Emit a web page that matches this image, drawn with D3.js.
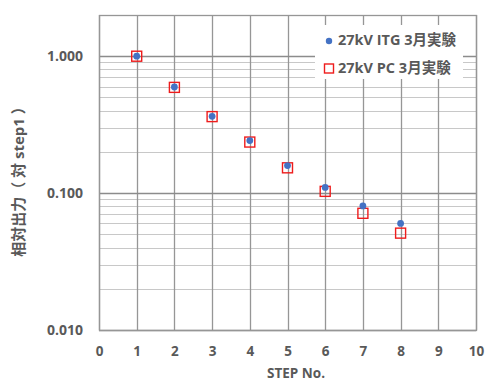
<!DOCTYPE html>
<html>
<head>
<meta charset="utf-8">
<script src="https://cdn.jsdelivr.net/npm/d3@7/dist/d3.min.js"></script>
<style>
  html, body { margin: 0; padding: 0; background: #fff; }
  svg { display: block; }
  text { font-family: "Open Sans", "Noto Sans CJK JP", sans-serif; font-weight: bold; fill: #595959; }
</style>
</head>
<body>
<svg id="chart" width="486" height="383"></svg>
<script>
// Relative output per step, normalised to step 1
const steps = [1, 2, 3, 4, 5, 6, 7, 8];
const itgValues = [1.0, 0.596, 0.364, 0.242, 0.159, 0.110, 0.0806, 0.060];
const pcValues  = [1.0, 0.592, 0.362, 0.236, 0.153, 0.103, 0.0712, 0.051];
const seriesNames = ["27kV ITG 3月実験", "27kV PC 3月実験"];
const xTicks = [0, 1, 2, 3, 4, 5, 6, 7, 8, 9, 10];
const yTicks = [0.01, 0.1, 1];
const yTickLabels = ["0.010", "0.100", "1.000"];
const xTitle = "STEP No.";
const yTitle = "相対出力（ 対 step1 ）";

const svg = d3.select("#chart");
const m = { left: 99, right: 10, top: 15, bottom: 53 };
const W = 486, H = 383;
const pw = W - m.left - m.right, ph = H - m.top - m.bottom;

const x = d3.scaleLinear().domain([0, 10]).range([m.left, m.left + pw]);
const y = d3.scaleLog().domain([0.01, 2]).range([m.top + ph, m.top]);

// Minor gridlines (2..9 within each decade)
const minor = [];
for (const dec of [0.01, 0.1, 1]) {
  for (let k = 2; k <= 9; k++) {
    const v = dec * k;
    if (v <= 2) minor.push(v);
  }
}
const grid = svg.append("g");
grid.selectAll("line.minor").data(minor).join("line")
  .attr("class", "minor")
  .attr("x1", m.left).attr("x2", m.left + pw)
  .attr("y1", d => Math.round(y(d)) + 0.5).attr("y2", d => Math.round(y(d)) + 0.5)
  .attr("stroke", "#c8c8c8").attr("stroke-width", 1);

// Vertical gridlines
grid.selectAll("line.vx").data(xTicks).join("line")
  .attr("class", "vx")
  .attr("x1", d => Math.round(x(d)) + 0.5).attr("x2", d => Math.round(x(d)) + 0.5)
  .attr("y1", m.top).attr("y2", m.top + ph)
  .attr("stroke", "#969696").attr("stroke-width", 1.3);

// Major horizontal gridlines
grid.selectAll("line.major").data(yTicks).join("line")
  .attr("class", "major")
  .attr("x1", m.left).attr("x2", m.left + pw)
  .attr("y1", d => Math.round(y(d)) + 0.5).attr("y2", d => Math.round(y(d)) + 0.5)
  .attr("stroke", "#8c8c8c").attr("stroke-width", 1.5);

// Plot frame
svg.append("rect")
  .attr("x", m.left + 0.5).attr("y", m.top + 0.5)
  .attr("width", pw).attr("height", ph)
  .attr("fill", "none").attr("stroke", "#969696").attr("stroke-width", 1.3);

// Axes (labels only; lines come from the grid)
const xAxis = d3.axisBottom(x).tickValues(xTicks).tickSize(0).tickPadding(0).tickFormat(d3.format("d"));
const gx = svg.append("g").attr("transform", `translate(0, ${m.top + ph + 16})`).call(xAxis);
gx.select(".domain").remove();
gx.selectAll("text").attr("font-size", 13.5).attr("font-family", null).attr("fill", null)
  .attr("dy", "0.75em");

const yAxis = d3.axisLeft(y).tickValues(yTicks).tickSize(0).tickPadding(0)
  .tickFormat((d, i) => yTickLabels[i]);
const gy = svg.append("g").attr("transform", `translate(${m.left - 16}, 0)`).call(yAxis);
gy.select(".domain").remove();
gy.selectAll("text").attr("font-size", 14).attr("font-family", null).attr("fill", null);

// Axis titles
svg.append("text")
  .attr("x", 296).attr("y", 374).attr("text-anchor", "middle")
  .attr("dominant-baseline", "middle").attr("font-size", 13.5)
  .text(xTitle);
svg.append("text")
  .attr("transform", "translate(20, 178) rotate(-90)")
  .attr("text-anchor", "middle").attr("dominant-baseline", "middle")
  .attr("font-size", 15)
  .text(yTitle);

// Series: PC as open squares, ITG as filled dots on top
const sq = 10;
svg.append("g").selectAll("rect").data(steps).join("rect")
  .attr("x", (d, i) => x(d) - sq / 2)
  .attr("y", (d, i) => y(pcValues[i]) - sq / 2)
  .attr("width", sq).attr("height", sq)
  .attr("fill", "none").attr("stroke", "#ee1c1c").attr("stroke-width", 1.4);

svg.append("g").selectAll("circle").data(steps).join("circle")
  .attr("cx", d => x(d))
  .attr("cy", (d, i) => y(itgValues[i]))
  .attr("r", 3.4)
  .attr("fill", "#4472c4");

// Legend
const lg = svg.append("g");
lg.append("rect").attr("x", 315).attr("y", 25).attr("width", 148).attr("height", 54).attr("fill", "#fff");
lg.append("circle").attr("cx", 329).attr("cy", 41).attr("r", 3.2).attr("fill", "#4472c4");
lg.append("text").attr("x", 338).attr("y", 41).attr("dominant-baseline", "middle")
  .attr("font-size", 14.5).text(seriesNames[0]);
lg.append("rect").attr("x", 324.5).attr("y", 64).attr("width", 9).attr("height", 9)
  .attr("fill", "none").attr("stroke", "#ee1c1c").attr("stroke-width", 1.4);
lg.append("text").attr("x", 338).attr("y", 69).attr("dominant-baseline", "middle")
  .attr("font-size", 14.5).text(seriesNames[1]);
</script>
</body>
</html>
